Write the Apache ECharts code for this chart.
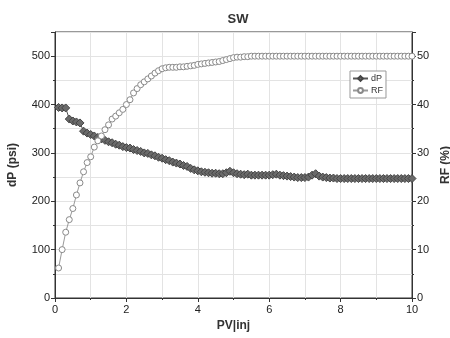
<!DOCTYPE html>
<html><head><meta charset="utf-8">
<script src="https://cdn.jsdelivr.net/npm/echarts@6/dist/echarts.min.js"></script>
<style>html,body{margin:0;padding:0;background:#fff}#c{width:450px;height:338px}</style>
</head><body><div id="c"></div>
<script>
const title = 'SW';
const pv = [0.1,0.2,0.3,0.4,0.5,0.6,0.7,0.8,0.9,1.0,
1.1,1.2,1.3,1.4,1.5,1.6,1.7,1.8,1.9,2.0,
2.1,2.2,2.3,2.4,2.5,2.6,2.7,2.8,2.9,3.0,
3.1,3.2,3.3,3.4,3.5,3.6,3.7,3.8,3.9,4.0,
4.1,4.2,4.3,4.4,4.5,4.6,4.7,4.8,4.9,5.0,
5.1,5.2,5.3,5.4,5.5,5.6,5.7,5.8,5.9,6.0,
6.1,6.2,6.3,6.4,6.5,6.6,6.7,6.8,6.9,7.0,
7.1,7.2,7.3,7.4,7.5,7.6,7.7,7.8,7.9,8.0,
8.1,8.2,8.3,8.4,8.5,8.6,8.7,8.8,8.9,9.0,
9.1,9.2,9.3,9.4,9.5,9.6,9.7,9.8,9.9,10.0];
const dP = [394,393,393,370,366,364,362,345,341,338,
335,332,329,326,323,321,318,316,313,311,
310,307,305,303,300,299,296,294,291,289,
286,284,281,279,277,274,272,268,265,263,
261,260,259,258,258,257,257,259,262,259,
257,256,255,256,254,254,254,254,254,254,
255,256,254,253,252,251,250,249,249,249,
250,254,257,252,250,249,248,248,247,247,
247,247,247,247,247,247,247,247,247,247,
247,247,247,247,247,247,247,247,247,247];
const RF = [6.2,10,13.6,16.2,18.5,21.3,23.8,26.1,28,29.2,
31.2,32.5,33.5,34.8,35.8,37,37.6,38.3,39,40,
41,42.4,43.3,44.1,44.7,45.3,45.9,46.5,47,47.4,
47.6,47.7,47.7,47.7,47.8,47.8,47.9,48,48.1,48.3,
48.4,48.5,48.6,48.7,48.8,48.9,49.1,49.3,49.5,49.7,
49.8,49.8,49.9,49.9,50,50,50,50,50,50,
50,50,50,50,50,50,50,50,50,50,
50,50,50,50,50,50,50,50,50,50,
50,50,50,50,50,50,50,50,50,50,
50,50,50,50,50,50,50,50,50,50];

const F = 'Liberation Sans, Arial, sans-serif';
const axisLine = {show:true, lineStyle:{color:'#333', width:1}};
const split = {show:true, lineStyle:{color:'#e3e3e3', width:1}};
const chart = echarts.init(document.getElementById('c'));
chart.setOption({
  animation:false,
  backgroundColor:'#fff',
  title:{text:title, left:233, top:8, textAlign:'center', textStyle:{fontFamily:F, fontSize:13, fontWeight:'bold', color:'#333'}},
  grid:{left:55, right:38, top:32, bottom:40, show:true, borderColor:'#333', borderWidth:1, containLabel:false, outerBoundsMode:'none'},
  legend:{left:350, top:71, orient:'vertical', itemWidth:15, itemHeight:6, itemGap:3,
    padding:[3,3,3,2], borderColor:'#999', borderWidth:1, backgroundColor:'#fff',
    textStyle:{fontFamily:F, fontSize:9, color:'#333', padding:[0,0,0,-2]}, data:['dP','RF']},
  xAxis:{type:'value', min:0, max:10, interval:2, name:'PV|inj', nameLocation:'middle', nameGap:20,
    nameTextStyle:{fontFamily:F, fontSize:12, fontWeight:'bold', color:'#333'},
    axisLine:axisLine, axisTick:{show:true, length:4, lineStyle:{color:'#333'}},
    minorTick:{show:true, splitNumber:2, length:2, lineStyle:{color:'#333'}},
    splitLine:split, minorSplitLine:split,
    axisLabel:{fontFamily:F, fontSize:11, color:'#222', margin:6}},
  yAxis:[
    {type:'value', min:0, max:550, interval:100, name:'dP (psi)', nameLocation:'middle', nameGap:36, nameRotate:90,
      nameTextStyle:{fontFamily:F, fontSize:12, fontWeight:'bold', color:'#333'},
      axisLine:axisLine, axisTick:{show:true, length:4, lineStyle:{color:'#333'}},
      minorTick:{show:true, splitNumber:2, length:2, lineStyle:{color:'#333'}},
      splitLine:split, minorSplitLine:split,
      axisLabel:{fontFamily:F, fontSize:11, color:'#222', margin:5, showMaxLabel:false}},
    {type:'value', min:0, max:55, interval:10, position:'right', name:'RF (%)', nameLocation:'middle', nameGap:21, nameRotate:90,
      nameTextStyle:{fontFamily:F, fontSize:12, fontWeight:'bold', color:'#333'},
      axisLine:axisLine, axisTick:{show:true, length:4, lineStyle:{color:'#333'}},
      minorTick:{show:true, splitNumber:2, length:2, lineStyle:{color:'#333'}},
      splitLine:{show:false},
      axisLabel:{fontFamily:F, fontSize:11, color:'#222', margin:5, showMaxLabel:false}}
  ],
  series:[
    {name:'dP', type:'line', yAxisIndex:0, data:pv.map((x,i)=>[x,dP[i]]),
      symbol:'diamond', symbolSize:8, showAllSymbol:true,
      lineStyle:{color:'#555', width:1}, itemStyle:{color:'#6a6a6a', borderColor:'#444', borderWidth:1}},
    {name:'RF', type:'line', yAxisIndex:1, data:pv.map((x,i)=>[x,RF[i]]),
      symbol:'circle', symbolSize:6, showAllSymbol:true,
      lineStyle:{color:'#999', width:1}, itemStyle:{color:'#fff', borderColor:'#8a8a8a', borderWidth:1}}
  ]
});
</script></body></html>
